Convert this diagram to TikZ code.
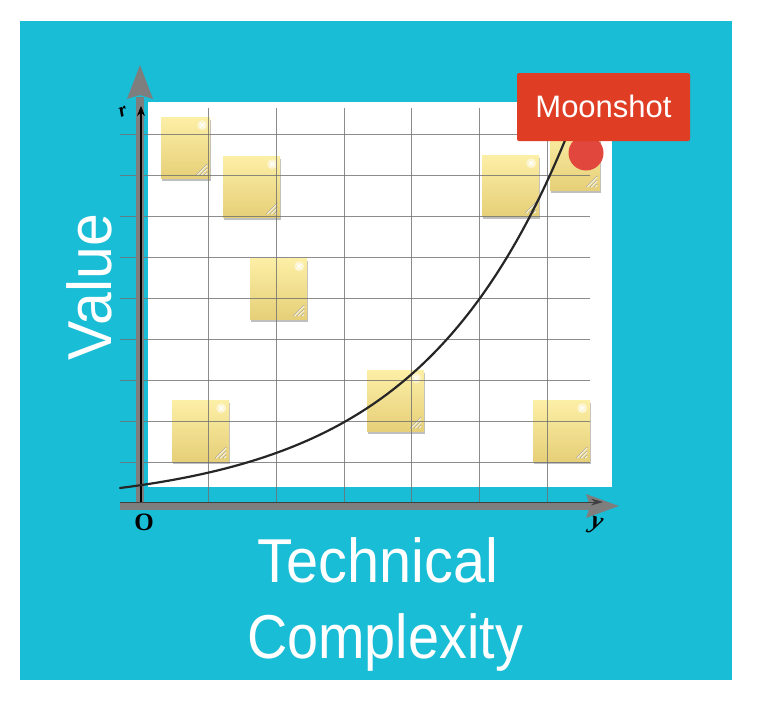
\documentclass[tikz,border=0pt]{standalone}
\usepackage{fontspec}
\newfontfamily\lab{Liberation Sans}
\newfontfamily\serifl{Liberation Serif}
\usetikzlibrary{shadows,arrows.meta}
\definecolor{cyanbg}{HTML}{19BDD6}
\definecolor{noteTop}{HTML}{FCEFA6}
\definecolor{noteBot}{HTML}{E6CF78}
\definecolor{axisgray}{HTML}{7E7E7E}
\definecolor{gridgray}{HTML}{707070}
\definecolor{moonred}{HTML}{E03D25}
\definecolor{dotred}{HTML}{E1473D}
\begin{document}
\begin{tikzpicture}[x=1pt,y=-1pt,
  sticky/.style={draw=none, inner sep=0pt, anchor=north west,
    minimum height=61pt, minimum width=57pt,
    top color=noteTop, bottom color=noteBot,
    drop shadow={shadow xshift=1pt, shadow yshift=-2.5pt, opacity=0.25, fill=black},
    path picture={
      \fill[white, opacity=0.5] ([shift={(-8pt,-8pt)}]path picture bounding box.north east) circle[radius=5pt];
      \draw[white, line width=1pt] ([shift={(-10.3pt,-5.7pt)}]path picture bounding box.north east) -- ([shift={(-5.7pt,-10.3pt)}]path picture bounding box.north east);
      \draw[white, line width=1pt] ([shift={(-10.3pt,-10.3pt)}]path picture bounding box.north east) -- ([shift={(-5.7pt,-5.7pt)}]path picture bounding box.north east);
      \foreach \d in {0,4,8}{
        \draw[gray!70, line width=0.8pt] ([shift={(-14pt+\d pt,3pt)}]path picture bounding box.south east) -- ([shift={(-3pt,14pt-\d pt)}]path picture bounding box.south east);
        \draw[white!90!noteTop, line width=0.6pt] ([shift={(-13pt+\d pt,3pt)}]path picture bounding box.south east) -- ([shift={(-3pt,13pt-\d pt)}]path picture bounding box.south east);
      }
    }},
  gridline/.style={gridgray, line width=1pt, opacity=0.8},
  biglabel/.style={text=white, font=\lab\fontsize{62}{62}\selectfont, inner sep=0pt},
  axislabel/.style={text=black, inner sep=0pt}
]
\useasboundingbox (0,0) rectangle (767,709);
% background
\fill[cyanbg] (20,21) rectangle (732,680);
\fill[white] (148,102) rectangle (612,487);

% sticky notes
\node[sticky, minimum width=49pt] (n1) at (161,117) {};
\node[sticky] (n2) at (223,156) {};
\node[sticky] (n3) at (250,258) {};
\node[sticky] (n4) at (172,400) {};
\node[sticky] (n5) at (367,370) {};
\node[sticky] (n6) at (482,155) {};
\node[sticky, minimum width=50pt] (n7) at (550,129) {};
\node[sticky] (n8) at (533,400) {};

% grid
\foreach \yy in {134,175,216,257,298,339,380,421,462}{
  \draw[gridline] (120,\yy) -- (590,\yy);
}
\foreach \xx in {208,276,344,411,479,547}{
  \draw[gridline] (\xx,108) -- (\xx,502);
}

% axes (gray wide arrows)
\coordinate (O) at (140,506);
\fill[axisgray] (136,510) rectangle (143.5,97);
\fill[axisgray] (127,99) -- (140,65) -- (153,99) -- (140,95) -- cycle;
\fill[axisgray] (120,502) rectangle (590,510);
\fill[axisgray] (586,494) -- (619,506) -- (586,518) -- (590,506) -- cycle;
% thin black arrows
\draw[black, line width=1.1pt, -{Stealth[length=10pt,width=8pt]}] (141,503) -- (141,106);
\draw[black!75, line width=1pt, -{Stealth[length=12pt,width=7pt]}] (120,502) -- (603,502);

% curve
\draw[black!85, line width=2.2pt, line cap=round]
  plot[domain=120:567, samples=90, smooth] (\x, {488-19.4*(exp(0.0066*(\x-120))-1)});

% axis letters
\node[axislabel, font=\serifl\bfseries\fontsize{25}{25}\selectfont] (lo) at (144,522) {O};
\node[axislabel, font=\serifl\itshape\bfseries\fontsize{26}{26}\selectfont, rotate=-15] (ly) at (596,526) {y};
\node[axislabel, font=\serifl\itshape\bfseries\fontsize{20}{20}\selectfont, rotate=20] (lr) at (123,112) {r};

% Moonshot marker
\node[circle, fill=dotred, minimum size=35pt, inner sep=0pt] (dot) at (586,153) {};
\node[fill=moonred, rounded corners=2pt, minimum width=173pt, minimum height=68pt, inner sep=0pt] (moon) at (603.5,107) {};
\node[text=white, font=\lab\fontsize{31}{31}\selectfont, anchor=base, inner sep=0pt] (moontext) at (603.5,117) {Moonshot};

% axis titles
\node[biglabel, rotate=90, anchor=base] (value) at (111,287) {\scalebox{0.95}[1]{Value}};
\node[biglabel, anchor=base] (tech) at (378,582) {\scalebox{0.93}[1]{Technical}};
\node[biglabel, anchor=base] (comp) at (385,658) {\scalebox{0.9}[1]{Complexity}};
\end{tikzpicture}
\end{document}
